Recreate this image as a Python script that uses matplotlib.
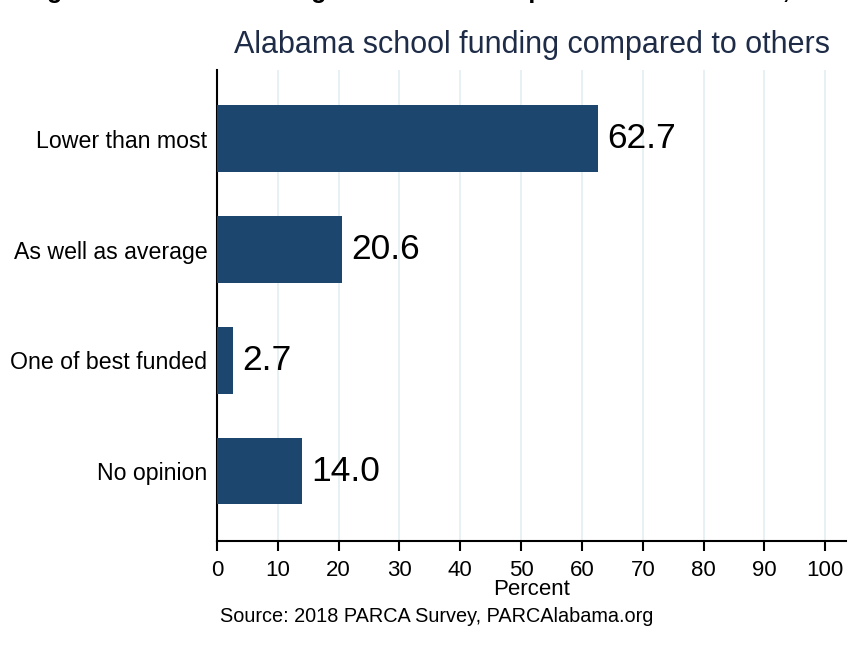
import matplotlib
matplotlib.use("Agg")
import matplotlib.pyplot as plt

# Survey answers (top to bottom) and their shares in percent
categories = ["Lower than most", "As well as average", "One of best funded", "No opinion"]
percents = [62.7, 20.6, 2.7, 14.0]
xticks = [0, 10, 20, 30, 40, 50, 60, 70, 80, 90, 100]

plt.rcParams['font.family'] = ['Liberation Sans', 'DejaVu Sans']

W, H = 859, 647
fig = plt.figure(figsize=(W / 100, H / 100), dpi=100)
ax = fig.add_axes([217 / W, 1 - 541 / H, (846 - 217) / W, (541 - 70) / H])

bar_color = '#1d466f'
ypos = list(range(len(categories)))
ax.barh(ypos, percents, height=0.6, color=bar_color, zorder=3)

for y, v in zip(ypos, percents):
    ax.text(v + 1.5, y, f"{v:.1f}", va='center', ha='left', fontsize=25.5, color='black', zorder=4)

ax.set_xlim(0, 103.4)
ax.set_ylim(3.63, -0.62)
ax.set_yticks(ypos)
ax.set_yticklabels(categories, fontsize=16.7)
ax.tick_params(axis='y', length=0, pad=7)
ax.set_xticks(xticks)
ax.set_xticklabels([str(t) for t in xticks], fontsize=16)
ax.tick_params(axis='x', length=7, width=1.5, direction='out', pad=7)

ax.grid(axis='x', color='#e3edf0', linewidth=1.2, zorder=0)
ax.set_axisbelow(True)
for side in ['top', 'right']:
    ax.spines[side].set_visible(False)
ax.spines['left'].set_linewidth(1.5)
ax.spines['bottom'].set_linewidth(1.5)

ax.set_xlabel("Percent", fontsize=16, labelpad=-2)

fig.text(532 / W, 1 - 45 / H, "Alabama school funding compared to others",
         ha='center', va='center', fontsize=22, color='#1e2c48')
fig.text(220 / W, 1 - 617 / H, "Source: 2018 PARCA Survey, PARCAlabama.org",
         ha='left', va='center', fontsize=14.3, color='black')

# page heading above the chart, mostly cut off by the top edge
fig.text(25 / W, 1 + 2 / H, "Figure 5: School Funding in Alabama Compared to Other States, 2018",
         ha='left', va='baseline', fontsize=18, fontweight='bold', color='black')

fig.savefig("out.png", dpi=100)
